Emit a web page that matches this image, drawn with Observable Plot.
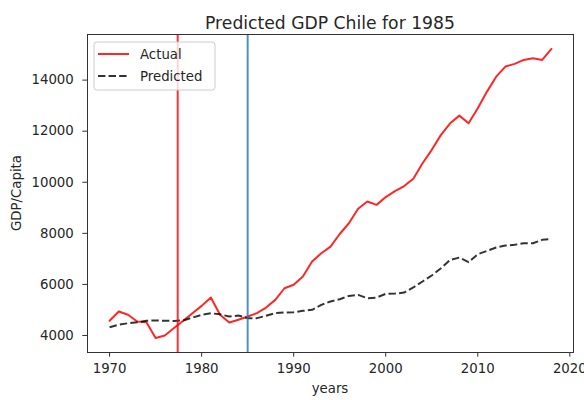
<!DOCTYPE html>
<html>
<head>
<meta charset="utf-8">
<script src="https://cdn.jsdelivr.net/npm/d3@7"></script>
<script src="https://cdn.jsdelivr.net/npm/@observablehq/plot@0.6"></script>
<style>
  html, body { margin: 0; padding: 0; background: #fff; }
  #chart { width: 584px; height: 400px; }
</style>
</head>
<body>
<div id="chart"></div>
<script>
// GDP per capita, Chile: observed series vs. synthetic prediction
const years = d3.range(1970, 2019);
const actual = [
  4575, 4940, 4810, 4550, 4520, 3900, 4000, 4290, 4575, 4870,
  5160, 5490, 4810, 4510, 4615, 4745, 4875, 5095, 5395, 5850,
  5985, 6310, 6895, 7220, 7480, 7975, 8395, 8960, 9245, 9115,
  9420, 9650, 9850, 10140, 10745, 11270, 11855, 12310, 12610, 12310,
  12895, 13550, 14135, 14530, 14635, 14790, 14855, 14790, 15220
];
const predicted = [
  4325, 4420, 4480, 4520, 4575, 4590, 4575, 4570, 4590, 4700,
  4810, 4870, 4830, 4740, 4780, 4680, 4680, 4770, 4875, 4900,
  4910, 4965, 5005, 5200, 5330, 5420, 5550, 5590, 5460, 5485,
  5630, 5640, 5680, 5880, 6115, 6350, 6635, 6960, 7050, 6870,
  7180, 7315, 7445, 7520, 7550, 7610, 7610, 7745, 7785
];
const seriesNames = ["Actual", "Predicted"];
const markerYears = [1977.4, 1985];
const markerColors = ["#ff0000", "#1f77b4"];
const xTicks = [1970, 1980, 1990, 2000, 2010, 2020];
const yTicks = [4000, 6000, 8000, 10000, 12000, 14000];
const titleText = "Predicted GDP Chile for 1985";
const xLabel = "years";
const yLabel = "GDP/Capita";

const actualRows = years.map((year, i) => ({year, value: actual[i]}));
const predictedRows = years.map((year, i) => ({year, value: predicted[i]}));
const markerRows = markerYears.map((year, i) => ({year, color: markerColors[i]}));

// 5% padding around the data extent on both axes
const allValues = actual.concat(predicted);
const lo = d3.min(allValues), hi = d3.max(allValues);
const yPad = (hi - lo) * 0.05;
const xPad = (d3.max(years) - d3.min(years)) * 0.05;

const W = 584, H = 400;
const M = {left: 87, right: 11, top: 34, bottom: 48};
const font = "DejaVu Sans, sans-serif";
const lineWidth = 2;
const dash = "7.4,3.2";

const chart = Plot.plot({
  width: W,
  height: H,
  marginLeft: M.left,
  marginRight: M.right,
  marginTop: M.top,
  marginBottom: M.bottom,
  style: {fontFamily: font, fontSize: "13.3px", color: "#262626", background: "#fff", overflow: "visible"},
  x: {domain: [d3.min(years) - xPad, d3.max(years) + xPad]},
  y: {domain: [lo - yPad, hi + yPad]},
  marks: [
    Plot.line(actualRows, {x: "year", y: "value", stroke: "#ff0000", strokeOpacity: 0.85, strokeWidth: lineWidth}),
    Plot.line(predictedRows, {x: "year", y: "value", stroke: "#000", strokeOpacity: 0.8, strokeWidth: lineWidth, strokeDasharray: dash, strokeLinecap: "butt"}),
    Plot.ruleX(markerRows, {x: "year", stroke: "color", strokeOpacity: 0.8, strokeWidth: lineWidth}),
    Plot.axisX({ticks: xTicks, tickFormat: "d", tickSize: 4.7, tickPadding: 6, label: null, stroke: "#333"}),
    Plot.axisY({ticks: yTicks, tickFormat: "d", tickSize: 4.7, tickPadding: 9, label: null, stroke: "#333"}),
    Plot.frame({stroke: "#333", strokeWidth: 1})
  ]
});
document.getElementById("chart").appendChild(chart);

const svg = d3.select(chart);
const frameLeft = M.left, frameRight = W - M.right, frameTop = M.top, frameBottom = H - M.bottom;
const cx = (frameLeft + frameRight) / 2;

// Title and axis titles
svg.append("text")
  .attr("x", cx).attr("y", 29)
  .attr("text-anchor", "middle")
  .attr("font-family", font).attr("font-size", 17.2)
  .attr("fill", "#262626")
  .text(titleText);

svg.append("text")
  .attr("x", cx).attr("y", 393)
  .attr("text-anchor", "middle")
  .attr("font-family", font).attr("font-size", 13.3)
  .attr("fill", "#262626")
  .text(xLabel);

svg.append("text")
  .attr("transform", `translate(21,${(frameTop + frameBottom) / 2}) rotate(-90)`)
  .attr("text-anchor", "middle")
  .attr("font-family", font).attr("font-size", 13.3)
  .attr("fill", "#262626")
  .text(yLabel);

// Legend in the upper-left corner of the axes
const legend = svg.append("g").attr("text-anchor", "start");
legend.append("rect")
  .attr("x", frameLeft + 7).attr("y", frameTop + 8)
  .attr("width", 121).attr("height", 48)
  .attr("rx", 3)
  .attr("fill", "#fff").attr("fill-opacity", 0.8)
  .attr("stroke", "#cccccc").attr("stroke-width", 1);

const legendStyles = [
  {stroke: "#ff0000", opacity: 0.85, dash: null},
  {stroke: "#000", opacity: 0.8, dash: dash}
];
seriesNames.forEach((name, i) => {
  const yy = frameTop + 20 + i * 22;
  legend.append("line")
    .attr("x1", frameLeft + 11).attr("x2", frameLeft + 42)
    .attr("y1", yy).attr("y2", yy)
    .attr("stroke", legendStyles[i].stroke)
    .attr("stroke-opacity", legendStyles[i].opacity)
    .attr("stroke-width", lineWidth)
    .attr("stroke-dasharray", legendStyles[i].dash);
  legend.append("text")
    .attr("x", frameLeft + 53).attr("y", yy)
    .attr("dy", "0.36em")
    .attr("text-anchor", "start")
    .attr("font-family", font).attr("font-size", 13.3)
    .attr("fill", "#262626")
    .text(name);
});
</script>
</body>
</html>
